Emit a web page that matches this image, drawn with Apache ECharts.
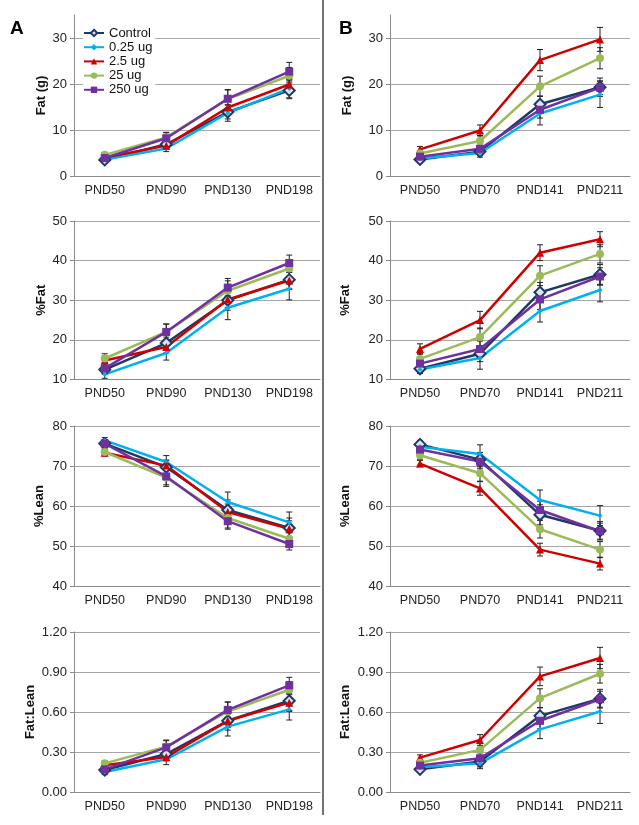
<!DOCTYPE html>
<html>
<head>
<meta charset="utf-8">
<script src="https://cdn.jsdelivr.net/npm/echarts@6/dist/echarts.min.js"></script>
<style>
  html, body { margin: 0; padding: 0; background: #fff; }
  #chart { width: 639px; height: 825px; }
</style>
</head>
<body>
<div id="chart"></div>
<script>
// groups, in drawing order
var groups = ["Control", "0.25 ug", "2.5 ug", "25 ug", "250 ug"];
var catsA = ["PND50", "PND90", "PND130", "PND198"];
var catsB = ["PND50", "PND70", "PND141", "PND211"];

// means, one row per group
var fatA = [[3.5, 6.9, 13.9, 18.6], [3.6, 6.0, 13.7, 19.0], [4.0, 6.6, 14.9, 19.9], [4.6, 8.4, 16.7, 21.8], [3.9, 8.2, 16.8, 22.7]];
var fatB = [[3.6, 5.3, 15.6, 19.3], [3.8, 5.0, 13.6, 17.7], [5.8, 9.9, 25.2, 29.7], [4.9, 7.6, 19.5, 25.6], [4.2, 5.9, 14.4, 19.2]];
var pctFatA = [[12.5, 19.2, 30.0, 35.2], [11.3, 16.7, 28.1, 32.9], [14.8, 18.2, 30.2, 35.0], [15.3, 22.0, 32.4, 38.0], [12.8, 22.0, 33.2, 39.4]];
var pctFatB = [[12.7, 16.5, 32.0, 36.5], [12.5, 15.4, 27.3, 32.6], [17.7, 25.0, 42.0, 45.4], [15.2, 20.7, 36.2, 41.7], [14.0, 17.7, 30.2, 36.0]];
var leanA = [[75.6, 69.7, 59.0, 54.5], [76.4, 71.0, 61.0, 55.9], [73.3, 70.1, 58.5, 54.3], [73.5, 67.1, 57.0, 51.8], [75.6, 67.4, 56.2, 50.5]];
var leanB = [[75.4, 71.6, 57.8, 53.8], [74.8, 73.0, 61.5, 57.6], [70.6, 64.4, 49.1, 45.6], [72.7, 68.2, 54.2, 49.1], [74.1, 71.1, 59.0, 53.7]];
var ratioA = [[0.165, 0.285, 0.534, 0.684], [0.15, 0.245, 0.49, 0.62], [0.20, 0.263, 0.534, 0.67], [0.215, 0.34, 0.604, 0.767], [0.17, 0.335, 0.616, 0.80]];
var ratioB = [[0.17, 0.228, 0.571, 0.70], [0.185, 0.215, 0.47, 0.604], [0.258, 0.39, 0.867, 1.005], [0.22, 0.316, 0.704, 0.887], [0.198, 0.253, 0.534, 0.696]];

// error bar half-lengths
var fatAErr = [[0.4, 0.8, 1.5, 1.8], [0.4, 0.7, 1.8, 2.0], [0.5, 0.8, 1.2, 1.2], [0.5, 1.0, 2.0, 1.8], [0.5, 1.3, 2.0, 2.0]];
var fatBErr = [[0.5, 0.8, 1.8, 2.0], [0.4, 0.9, 2.5, 2.8], [0.6, 1.2, 2.3, 2.6], [0.6, 1.2, 2.2, 2.3], [0.5, 0.8, 1.8, 1.5]];
var pctFatAErr = [[1.0, 1.5, 2.5, 2.5], [1.0, 1.8, 3.0, 2.8], [1.2, 1.5, 2.0, 2.0], [1.2, 2.0, 2.5, 2.0], [1.5, 2.0, 2.3, 2.0]];
var pctFatBErr = [[1.0, 2.0, 2.5, 2.5], [1.0, 2.8, 2.8, 3.0], [1.3, 2.2, 2.0, 1.9], [1.3, 2.3, 2.5, 2.3], [1.0, 2.0, 2.5, 2.2]];
var leanAErr = [[1.0, 1.8, 2.5, 2.5], [0.7, 1.6, 2.5, 2.6], [0.8, 1.2, 2.0, 2.0], [0.8, 1.8, 2.5, 2.2], [1.0, 2.5, 2.0, 1.5]];
var leanBErr = [[1.0, 1.8, 2.5, 2.3], [1.0, 2.3, 2.5, 2.5], [0.8, 1.7, 1.6, 1.6], [1.0, 2.0, 2.2, 2.0], [1.0, 1.8, 2.2, 2.0]];
var ratioAErr = [[0.02, 0.04, 0.07, 0.08], [0.02, 0.04, 0.07, 0.08], [0.02, 0.03, 0.05, 0.06], [0.02, 0.05, 0.07, 0.06], [0.03, 0.05, 0.06, 0.06]];
var ratioBErr = [[0.02, 0.04, 0.06, 0.07], [0.02, 0.04, 0.07, 0.09], [0.02, 0.04, 0.07, 0.08], [0.02, 0.05, 0.07, 0.07], [0.02, 0.04, 0.06, 0.06]];

// y axis tick labels
var fatTicks = [0, 10, 20, 30];
var pctFatTicks = [10, 20, 30, 40, 50];
var leanTicks = [40, 50, 60, 70, 80];
var ratioTicks = [0, 0.3, 0.6, 0.9, 1.2];

var font = "Liberation Sans, Arial, sans-serif";
var colors = ["#1F3864", "#00B0F0", "#D00000", "#9BBB59", "#7030A0"];
var symbols = ["diamond", "diamond", "triangle", "circle", "rect"];
var symbolSizes = [11, 5, 8, 8, 8];

// layout of the 8 panels
var cols = [{ left: 74, width: 246 }, { left: 390, width: 240 }];
var rows = [{ top: 15, height: 161 }, { top: 221, height: 158.5 }, { top: 426, height: 160 }, { top: 632, height: 160 }];

var panels = [
  { row: 0, col: 0, cats: catsA, means: fatA, errs: fatAErr, name: "Fat (g)", ticks: fatTicks, max: 35, gap: 26, dec: 0 },
  { row: 0, col: 1, cats: catsB, means: fatB, errs: fatBErr, name: "Fat (g)", ticks: fatTicks, max: 35, gap: 36, dec: 0 },
  { row: 1, col: 0, cats: catsA, means: pctFatA, errs: pctFatAErr, name: "%Fat", ticks: pctFatTicks, gap: 26, dec: 0 },
  { row: 1, col: 1, cats: catsB, means: pctFatB, errs: pctFatBErr, name: "%Fat", ticks: pctFatTicks, gap: 38, dec: 0 },
  { row: 2, col: 0, cats: catsA, means: leanA, errs: leanAErr, name: "%Lean", ticks: leanTicks, gap: 28, dec: 0 },
  { row: 2, col: 1, cats: catsB, means: leanB, errs: leanBErr, name: "%Lean", ticks: leanTicks, gap: 38, dec: 0 },
  { row: 3, col: 0, cats: catsA, means: ratioA, errs: ratioAErr, name: "Fat:Lean", ticks: ratioTicks, gap: 37, dec: 2 },
  { row: 3, col: 1, cats: catsB, means: ratioB, errs: ratioBErr, name: "Fat:Lean", ticks: ratioTicks, gap: 38, dec: 2 }
];

var grids = [], xAxes = [], yAxes = [], series = [];

panels.forEach(function (p, i) {
  grids.push({
    left: cols[p.col].left, width: cols[p.col].width,
    top: rows[p.row].top, height: rows[p.row].height
  });
  xAxes.push({
    type: "category", gridIndex: i, data: p.cats,
    axisLine: { lineStyle: { color: "#8a8a8a" } },
    axisTick: { length: 5, lineStyle: { color: "#8a8a8a" } },
    axisLabel: { interval: 0, hideOverlap: false, color: "#222", fontFamily: font, fontSize: 12.5, margin: 8 }
  });
  var yMin = p.ticks[0];
  var yMax = p.max != null ? p.max : p.ticks[p.ticks.length - 1];
  yAxes.push({
    type: "value", gridIndex: i, min: yMin, max: yMax,
    name: p.name, nameLocation: "middle", nameRotate: 90, nameGap: p.gap,
    nameTextStyle: { color: "#111", fontFamily: font, fontSize: 13, fontWeight: "bold" },
    axisLine: { show: true, lineStyle: { color: "#8a8a8a" } },
    axisTick: { show: true, length: 4, customValues: p.ticks, lineStyle: { color: "#8a8a8a" } },
    axisLabel: {
      customValues: p.ticks, color: "#222", fontFamily: font, fontSize: 13, margin: 7,
      formatter: function (v) { return Number(v).toFixed(p.dec); }
    },
    splitLine: { show: true, lineStyle: { color: "#a6a6a6", width: 1 } }
  });

  groups.forEach(function (g, k) {
    // error bars
    series.push({
      type: "custom", xAxisIndex: i, yAxisIndex: i, silent: true, z: 2,
      data: p.means[k].map(function (m, j) { return [j, m - p.errs[k][j], m + p.errs[k][j]]; }),
      encode: { x: 0, y: [1, 2] },
      renderItem: function (params, api) {
        var lo = api.coord([api.value(0), api.value(1)]);
        var hi = api.coord([api.value(0), api.value(2)]);
        var w = 3;
        var st = { stroke: "#222", lineWidth: 1 };
        return {
          type: "group",
          children: [
            { type: "line", shape: { x1: lo[0], y1: lo[1], x2: hi[0], y2: hi[1] }, style: st },
            { type: "line", shape: { x1: hi[0] - w, y1: hi[1], x2: hi[0] + w, y2: hi[1] }, style: st },
            { type: "line", shape: { x1: lo[0] - w, y1: lo[1], x2: lo[0] + w, y2: lo[1] }, style: st }
          ]
        };
      }
    });
    // mean lines
    series.push({
      name: g, type: "line", xAxisIndex: i, yAxisIndex: i, z: 3,
      data: p.means[k],
      symbol: symbols[k], symbolSize: symbolSizes[k],
      showAllSymbol: true,
      lineStyle: { color: colors[k], width: 2.5 },
      itemStyle: k === 0
        ? { color: "#DCE6F2", borderColor: colors[0], borderWidth: 2 }
        : { color: colors[k], borderColor: colors[k], borderWidth: 0 },
      emphasis: { disabled: true }
    });
  });
});

var chart = echarts.init(document.getElementById("chart"), null, { renderer: "canvas" });

var option = {
  animation: false,
  backgroundColor: "#fff",
  grid: grids,
  xAxis: xAxes,
  yAxis: yAxes,
  series: series,
  legend: {
    data: groups, orient: "vertical", left: 83, top: 24,
    itemWidth: 20, itemHeight: 8, itemGap: 0.2,
    padding: [2, 3, 2, 0], backgroundColor: "#fff",
    textStyle: { color: "#111", fontFamily: font, fontSize: 13, lineHeight: 14 }
  },
  graphic: [
    { type: "text", left: 10, top: 19, style: { text: "A", font: "bold 19px " + font, fill: "#000" } },
    { type: "text", left: 339, top: 19, style: { text: "B", font: "bold 19px " + font, fill: "#000" } },
    { type: "line", shape: { x1: 323, y1: 0, x2: 323, y2: 815 }, style: { stroke: "#444", lineWidth: 1.5 } }
  ]
};

chart.setOption(option);
</script>
</body>
</html>
